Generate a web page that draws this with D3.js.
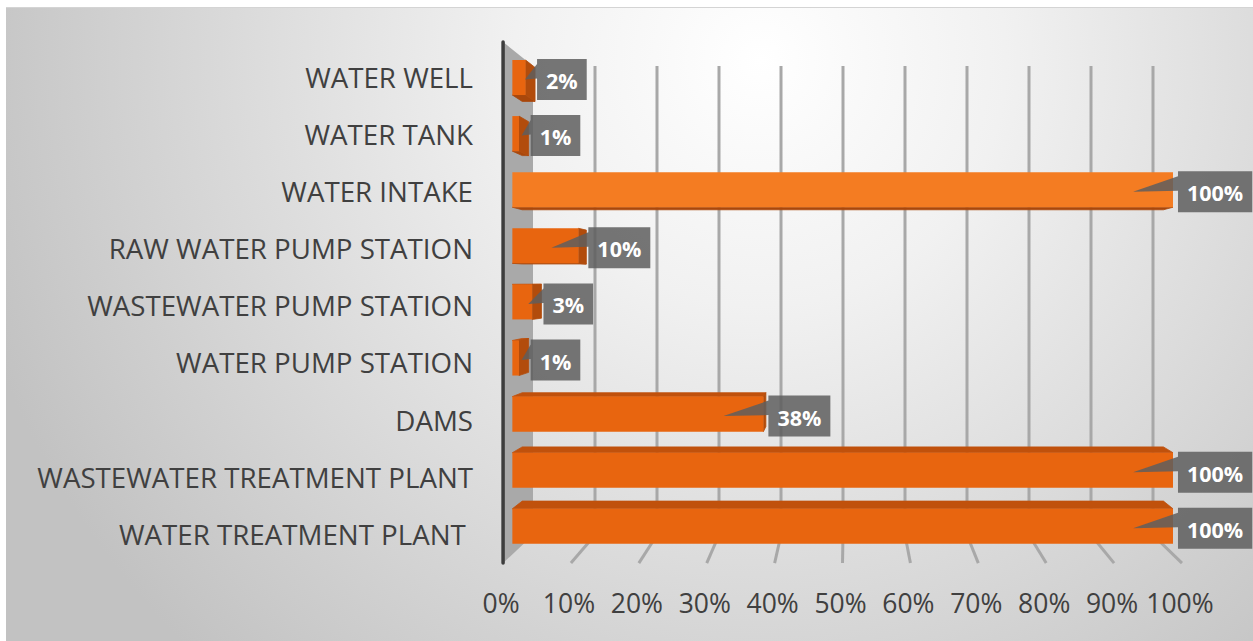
<!DOCTYPE html>
<html>
<head>
<meta charset="utf-8">
<script src="https://cdn.jsdelivr.net/npm/d3@7"></script>
<style>
  html, body { margin: 0; padding: 0; background: #ffffff; }
  svg { display: block; }
  text { font-family: "Open Sans", "Liberation Sans", sans-serif; }
</style>
</head>
<body>
<svg id="chart" width="1253" height="641"></svg>
<script>
// Categories, top to bottom
const categories = [
  "WATER WELL",
  "WATER TANK",
  "WATER INTAKE",
  "RAW WATER PUMP STATION",
  "WASTEWATER PUMP STATION",
  "WATER PUMP STATION",
  "DAMS",
  "WASTEWATER TREATMENT PLANT",
  "WATER TREATMENT PLANT "
];
// Share of each facility type (%)
const values = [2, 1, 100, 10, 3, 1, 38, 100, 100];
// Axis ticks (%)
const tickValues = [0, 10, 20, 30, 40, 50, 60, 70, 80, 90, 100];
const tickLabels = tickValues.map(v => v + "%");

const W = 1253, H = 641;
const svg = d3.select("#chart");
const defs = svg.append("defs");

// ---- background panel ----
const bg = defs.append("radialGradient").attr("id", "bgGrad")
  .attr("gradientUnits", "userSpaceOnUse")
  .attr("cx", 760).attr("cy", 60).attr("r", 820);
bg.append("stop").attr("offset", 0).attr("stop-color", "#ffffff");
bg.append("stop").attr("offset", 0.3).attr("stop-color", "#f1f1f1");
bg.append("stop").attr("offset", 1).attr("stop-color", "#c2c2c2");
svg.append("rect").attr("x", 6).attr("y", 7).attr("width", W - 6).attr("height", H - 7)
  .attr("fill", "url(#bgGrad)");
svg.append("line").attr("x1", 6).attr("x2", W).attr("y1", 7.5).attr("y2", 7.5)
  .attr("stroke", "#d4d4d4").attr("stroke-width", 1);

// ---- 3D projection: back wall plane mapped by scales, depth d in [0,1] ----
const x = d3.scaleLinear().domain([0, 100]).range([533, 1153]);
const y = d3.scaleBand().domain(categories).range([66, 535])
  .paddingInner(0.375).paddingOuter(0.1875);
const cx = 848, cy = 282;           // perspective centre
const kx = 0.095, ky = 0.111;       // growth of the front plane
function P(v, yy, d) {
  const sx = 1 + kx * d, sy = 1 + ky * d;
  return [cx + (x(v) - cx) * sx, cy + (yy - cy) * sy];
}
const yTop = y.range()[0], yBot = y.range()[1];
const poly = pts => pts.map(p => p.join(",")).join(" ");

// ---- side wall ----
svg.append("polygon")
  .attr("points", poly([P(0, yTop, 1), P(0, yTop, 0), P(0, yBot, 0), P(0, yBot, 1)]))
  .attr("fill", "#a9a9a9");
const wallFront = [P(0, yTop, 1), P(0, yBot, 1)];
svg.append("line")
  .attr("x1", wallFront[0][0]).attr("y1", wallFront[0][1])
  .attr("x2", wallFront[1][0]).attr("y2", wallFront[1][1])
  .attr("stroke", "#3d3d3d").attr("stroke-width", 3.5).attr("stroke-linecap", "round");

// ---- back wall gridlines and floor lines ----
const grid = svg.append("g");
tickValues.filter(v => v > 0).forEach(v => {
  grid.append("line")
    .attr("x1", x(v)).attr("x2", x(v)).attr("y1", yTop).attr("y2", yBot)
    .attr("stroke", "#a8a8a8").attr("stroke-width", 3);
  const a = P(v, yBot, 0), b = P(v, yBot, 1);
  grid.append("line")
    .attr("x1", a[0]).attr("y1", a[1]).attr("x2", b[0]).attr("y2", b[1])
    .attr("stroke", "#a8a8a8").attr("stroke-width", 3);
});

// ---- bars as perspective boxes ----
const dBack = 0.36, dFront = 0.69;
const frontGrad = defs.append("linearGradient").attr("id", "frontGrad")
  .attr("gradientUnits", "userSpaceOnUse")
  .attr("x1", 0).attr("x2", 0).attr("y1", 0).attr("y2", H);
[[0, "#e8650f"], [0.255, "#e8650f"], [0.265, "#f47c22"], [0.33, "#f47c22"], [0.345, "#e8650f"], [1, "#e8650f"]]
  .forEach(([o, c]) => frontGrad.append("stop").attr("offset", o).attr("stop-color", c));

const bars = svg.append("g");
const labelInfo = [];
categories.forEach((c, i) => {
  const v = values[i];
  const yt = y(c), yb = y(c) + y.bandwidth();
  const g = bars.append("g");
  const face = (pts, fill) => g.append("polygon").attr("points", poly(pts))
    .attr("fill", fill).attr("stroke", fill).attr("stroke-width", 0.8).attr("stroke-linejoin", "round");
  if (yt > cy) face([P(0, yt, dBack), P(v, yt, dBack), P(v, yt, dFront), P(0, yt, dFront)], "#c0510c");
  if (yb < cy) face([P(0, yb, dFront), P(v, yb, dFront), P(v, yb, dBack), P(0, yb, dBack)], "#a9470b");
  if (x(v) < cx) face([P(v, yt, dBack), P(v, yt, dFront), P(v, yb, dFront), P(v, yb, dBack)], "#b24c0c");
  const f = [P(0, yt, dFront), P(v, yt, dFront), P(v, yb, dFront), P(0, yb, dFront)];
  face(f, "url(#frontGrad)").attr("stroke", "none");
  labelInfo.push({
    text: v + "%",
    left: f[0][0], right: f[1][0],
    backRight: P(v, yt, dBack)[0],
    midY: (f[0][1] + f[3][1]) / 2
  });
});

// ---- data label callouts ----
const labels = svg.append("g");
labelInfo.forEach(L => {
  const g = labels.append("g");
  const t = g.append("text").text(L.text)
    .attr("font-size", 21.5).attr("font-weight", 700).attr("fill", "#ffffff")
    .attr("text-anchor", "middle").attr("dominant-baseline", "central");
  const tw = t.node().getComputedTextLength();
  const bw = tw + 18, bh = 41;
  const bx = Math.max(L.right + 5, L.backRight + 2);
  const by = L.midY + 2 - bh / 2;
  const bcy = by + bh / 2;
  const tx = Math.max(L.right - 40, (L.left + L.right) / 2 + 6);
  g.insert("path", "text")
    .attr("d", `M${tx},${bcy} L${bx},${by + 5} L${bx},${by} L${bx + bw},${by} L${bx + bw},${by + bh} L${bx},${by + bh} L${bx},${bcy - 1} Z`)
    .attr("fill", "#5e5e5e").attr("fill-opacity", 0.85);
  t.attr("x", bx + bw / 2).attr("y", bcy + 1);
});

// ---- category labels ----
const cat = svg.append("g");
categories.forEach(c => {
  const yc = cy + (y(c) + y.bandwidth() / 2 - cy) * 1.096 + 3;
  cat.append("text").text(c)
    .attr("x", 473).attr("y", yc)
    .attr("text-anchor", "end").attr("dominant-baseline", "central")
    .attr("font-size", 27.7).attr("fill", "#404040")
    .style("white-space", "pre");
});

// ---- value axis labels along the front floor edge ----
const ticks = svg.append("g");
tickValues.forEach((v, i) => {
  const p = P(v, yBot, 1);
  ticks.append("text").text(tickLabels[i])
    .attr("x", p[0] - 2).attr("y", 613)
    .attr("text-anchor", "middle")
    .attr("font-size", 26.5).attr("fill", "#404040");
});
</script>
</body>
</html>
